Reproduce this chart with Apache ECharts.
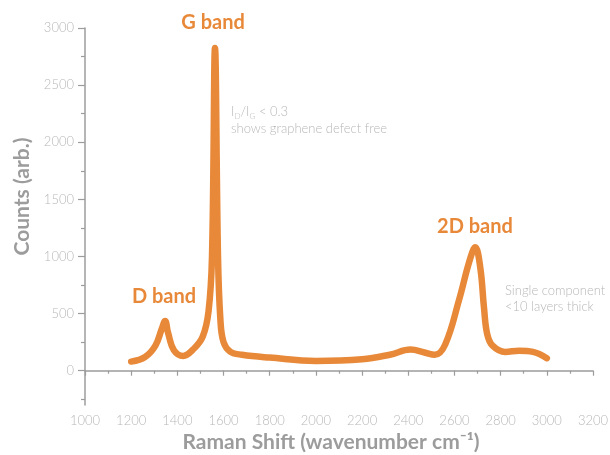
<!DOCTYPE html>
<html>
<head>
<meta charset="utf-8">
<script src="https://cdn.jsdelivr.net/npm/echarts@6/dist/echarts.min.js"></script>
<style>
  html, body { margin: 0; padding: 0; background: #fff; }
  #chart { width: 610px; height: 455px; }
</style>
</head>
<body>
<div id="chart"></div>
<script>
// Raman spectrum
var ramanShift = [1200, 1260, 1305, 1333, 1347, 1360, 1385, 1425,
  1470, 1510, 1535, 1550, 1563, 1576, 1586, 1600, 1630, 1680,
  1800, 2000, 2200, 2320, 2410, 2470, 2515,
  2560, 2620, 2665, 2690, 2712, 2728, 2742, 2765, 2820, 2880, 2940, 3000];
var counts = [80, 120, 220, 370, 435, 330, 180, 130,
  190, 300, 520, 1000, 2825, 1000, 460, 250, 165, 140,
  115, 85, 100, 140, 185, 160, 140,
  230, 620, 960, 1080, 900, 550, 320, 220, 165, 175, 165, 110];

var yLabelValues = [0, 500, 1000, 1500, 2000, 2500, 3000];
var yMinorValues = [-250, 250, 750, 1250, 1750, 2250, 2750];

var orange = '#e8893a';
var grey = '#9c9c9c';
var light = '#b8b8b8';

var chart = echarts.init(document.getElementById('chart'));

function plain(v) { return String(v); }

chart.setOption({
  animation: false,
  grid: { left: 85, right: 17, top: 28, bottom: 50, outerBoundsMode: 'none' },
  xAxis: {
    type: 'value',
    min: 1000, max: 3200, interval: 200,
    name: 'Raman Shift (wavenumber cm\u207B\u00B9)',
    nameLocation: 'middle',
    nameGap: 26,
    nameTextStyle: { color: grey, fontSize: 21, fontWeight: 'bold', fontFamily: 'Lato', padding: [0, 16, 0, 0] },
    axisLine: { lineStyle: { color: grey, width: 1.5 } },
    axisTick: { length: 5, lineStyle: { color: grey, width: 1.2 } },
    minorTick: { show: true, splitNumber: 2, length: 3, lineStyle: { color: grey, width: 1.2 } },
    axisLabel: { color: light, fontSize: 13, fontFamily: 'Lato', fontWeight: 300, margin: 9, formatter: plain },
    splitLine: { show: false }
  },
  yAxis: [
    {
      type: 'value',
      min: -300, max: 3000,
      name: 'Counts (arb.)',
      nameLocation: 'middle',
      nameGap: 50,
      nameTextStyle: { color: grey, fontSize: 21, fontWeight: 'bold', fontFamily: 'Lato', padding: [0, 0, 0, 40] },
      axisLine: { show: true, lineStyle: { color: grey, width: 1.5 } },
      axisTick: { show: true, length: 7, customValues: yLabelValues, lineStyle: { color: grey, width: 1.2 } },
      axisLabel: { color: light, fontSize: 13, fontFamily: 'Lato', fontWeight: 300, margin: 11, customValues: yLabelValues, formatter: plain },
      splitLine: { show: false }
    },
    {
      type: 'value',
      min: -300, max: 3000,
      position: 'left',
      axisLine: { show: false },
      axisTick: { show: true, length: 4, customValues: yMinorValues, lineStyle: { color: grey, width: 1.2 } },
      axisLabel: { show: false },
      splitLine: { show: false }
    }
  ],
  series: [{
    type: 'line',
    data: ramanShift.map(function (x, i) { return [x, counts[i]]; }),
    smooth: 0.4,
    showSymbol: false,
    lineStyle: { color: orange, width: 6.5, cap: 'round', join: 'round' }
  }],
  graphic: [
    { type: 'text', x: 213, y: 23, style: { text: 'G band', fill: orange, font: 'bold 20px Lato', textAlign: 'center', textVerticalAlign: 'middle' } },
    { type: 'text', x: 164, y: 297, style: { text: 'D band', fill: orange, font: 'bold 20px Lato', textAlign: 'center', textVerticalAlign: 'middle' } },
    { type: 'text', x: 475, y: 227, style: { text: '2D band', fill: orange, font: 'bold 20px Lato', textAlign: 'center', textVerticalAlign: 'middle' } },
    { type: 'text', x: 231, y: 103, style: {
        text: '{t|I}{s|D}{t|/I}{s|G}{t| < 0.3}',
        rich: {
          t: { fill: light, fontSize: 13, fontFamily: 'Lato', fontWeight: 300 },
          s: { fill: light, fontSize: 8, fontFamily: 'Lato', fontWeight: 300, padding: [9, 0, 0, 0] }
        }
    } },
    { type: 'text', x: 231, y: 129, style: { text: 'shows graphene defect free', fill: light, font: '300 13px Lato', textVerticalAlign: 'middle' } },
    { type: 'text', x: 505, y: 291, style: { text: 'Single component', fill: light, font: '300 13px Lato', textVerticalAlign: 'middle' } },
    { type: 'text', x: 505, y: 307, style: { text: '<10 layers thick', fill: light, font: '300 13px Lato', textVerticalAlign: 'middle' } }
  ]
});
</script>
</body>
</html>
